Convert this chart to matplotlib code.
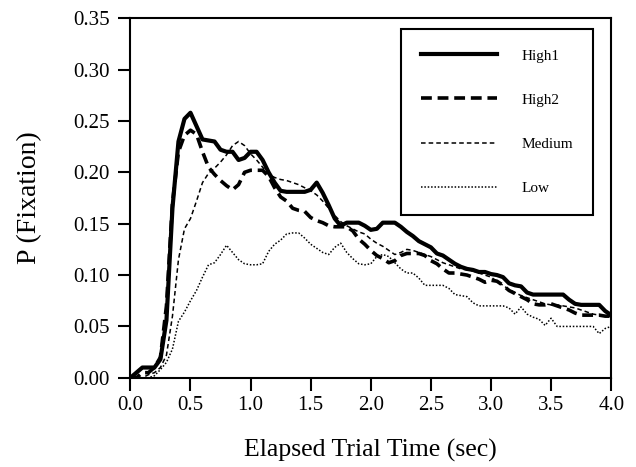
import numpy as np
import matplotlib
matplotlib.use("Agg")
import matplotlib.pyplot as plt

time_sec = [round(0.05 * i, 2) for i in range(81)]

high1 = [0.000, 0.005, 0.010, 0.010, 0.010, 0.018, 0.056, 0.165, 0.230, 0.252,
         0.258, 0.245, 0.232, 0.231, 0.230, 0.222, 0.220, 0.220, 0.212, 0.214,
         0.220, 0.220, 0.212, 0.200, 0.190, 0.182, 0.181, 0.181, 0.181, 0.181,
         0.183, 0.190, 0.180, 0.168, 0.155, 0.148, 0.151, 0.151, 0.151, 0.148,
         0.144, 0.145, 0.151, 0.151, 0.151, 0.147, 0.142, 0.138, 0.133, 0.130,
         0.127, 0.121, 0.119, 0.115, 0.111, 0.108, 0.106, 0.105, 0.103, 0.103,
         0.101, 0.100, 0.098, 0.092, 0.090, 0.089, 0.083, 0.081, 0.081, 0.081,
         0.081, 0.081, 0.081, 0.076, 0.072, 0.071, 0.071, 0.071, 0.071, 0.065,
         0.061]

high2 = [0.000, 0.000, 0.005, 0.005, 0.010, 0.020, 0.070, 0.170, 0.220, 0.236,
         0.241, 0.237, 0.220, 0.205, 0.198, 0.192, 0.187, 0.183, 0.188, 0.200,
         0.202, 0.202, 0.202, 0.196, 0.185, 0.176, 0.172, 0.165, 0.163, 0.162,
         0.156, 0.153, 0.151, 0.148, 0.147, 0.147, 0.147, 0.143, 0.135, 0.130,
         0.124, 0.119, 0.116, 0.112, 0.114, 0.119, 0.121, 0.121, 0.121, 0.119,
         0.114, 0.111, 0.106, 0.102, 0.102, 0.101, 0.100, 0.098, 0.096, 0.093,
         0.095, 0.094, 0.090, 0.085, 0.082, 0.079, 0.076, 0.072, 0.071, 0.071,
         0.072, 0.070, 0.068, 0.066, 0.063, 0.061, 0.061, 0.061, 0.061, 0.060,
         0.060]

medium = [0.000, 0.000, 0.000, 0.003, 0.005, 0.010, 0.022, 0.060, 0.115, 0.145,
          0.155, 0.172, 0.190, 0.199, 0.204, 0.210, 0.217, 0.226, 0.230, 0.226,
          0.218, 0.212, 0.205, 0.198, 0.195, 0.193, 0.192, 0.190, 0.188, 0.185,
          0.182, 0.178, 0.172, 0.165, 0.158, 0.152, 0.148, 0.145, 0.142, 0.140,
          0.135, 0.131, 0.128, 0.124, 0.120, 0.122, 0.125, 0.124, 0.122, 0.120,
          0.118, 0.115, 0.112, 0.110, 0.108, 0.106, 0.105, 0.104, 0.102, 0.100,
          0.098, 0.094, 0.090, 0.086, 0.083, 0.080, 0.078, 0.076, 0.074, 0.072,
          0.071, 0.071, 0.070, 0.069, 0.068, 0.066, 0.064, 0.062, 0.061, 0.060,
          0.060]

low = [0.000, 0.000, 0.000, 0.000, 0.002, 0.008, 0.015, 0.028, 0.055, 0.064,
       0.075, 0.085, 0.098, 0.110, 0.112, 0.120, 0.129, 0.122, 0.115, 0.111,
       0.110, 0.110, 0.111, 0.123, 0.130, 0.134, 0.140, 0.141, 0.141, 0.136,
       0.130, 0.126, 0.122, 0.120, 0.127, 0.131, 0.122, 0.116, 0.111, 0.110,
       0.111, 0.118, 0.120, 0.118, 0.112, 0.106, 0.102, 0.102, 0.097, 0.090,
       0.090, 0.090, 0.090, 0.087, 0.081, 0.080, 0.079, 0.073, 0.070, 0.070,
       0.070, 0.070, 0.070, 0.068, 0.062, 0.069, 0.062, 0.059, 0.057, 0.051,
       0.058, 0.050, 0.050, 0.050, 0.050, 0.050, 0.050, 0.050, 0.043, 0.048,
       0.050]

x_ticks = [0.0, 0.5, 1.0, 1.5, 2.0, 2.5, 3.0, 3.5, 4.0]
y_ticks = [0.00, 0.05, 0.10, 0.15, 0.20, 0.25, 0.30, 0.35]

plt.rcParams['font.family'] = ['Liberation Serif', 'DejaVu Serif']

fig = plt.figure(figsize=(6.36, 4.67), dpi=100)
ax = fig.add_axes([0.205, 0.191, 0.756, 0.770])

ax.plot(time_sec, high1, color='black', lw=3.0, ls='-', label='High1')
ax.plot(time_sec, high2, color='black', lw=2.6, dashes=(3.0, 1.6), label='High2')
ax.plot(time_sec, medium, color='black', lw=1.1, dashes=(3.0, 2.0), label='Medium')
ax.plot(time_sec, low, color='black', lw=1.1, dashes=(1.0, 1.2), label='Low')

ax.set_xlim(0, 4.0)
ax.set_ylim(0, 0.35)
ax.set_xticks(x_ticks)
ax.set_xticklabels([f"{v:.1f}" for v in x_ticks])
ax.set_yticks(y_ticks)
ax.set_yticklabels([f"{v:.2f}" for v in y_ticks])
ax.tick_params(direction='out', length=9, width=1.5, labelsize=15,
               top=False, right=False)
ax.tick_params(axis='y', pad=6)
ax.tick_params(axis='x', pad=4)
for s in ax.spines.values():
    s.set_linewidth(1.5)

ax.set_xlabel('Elapsed Trial Time (sec)', fontsize=18.5, labelpad=17)
ax.set_ylabel('P (Fixation)', fontsize=20, labelpad=22)

leg = ax.legend(loc='upper right', bbox_to_anchor=(0.962, 0.97), fancybox=False,
                edgecolor='black', framealpha=1, fontsize=11,
                handlelength=5.0, handletextpad=1.6, labelspacing=2.0,
                borderpad=1.3, borderaxespad=0)
leg.get_frame().set_linewidth(1.5)

fig.savefig('out.png', dpi=100)
